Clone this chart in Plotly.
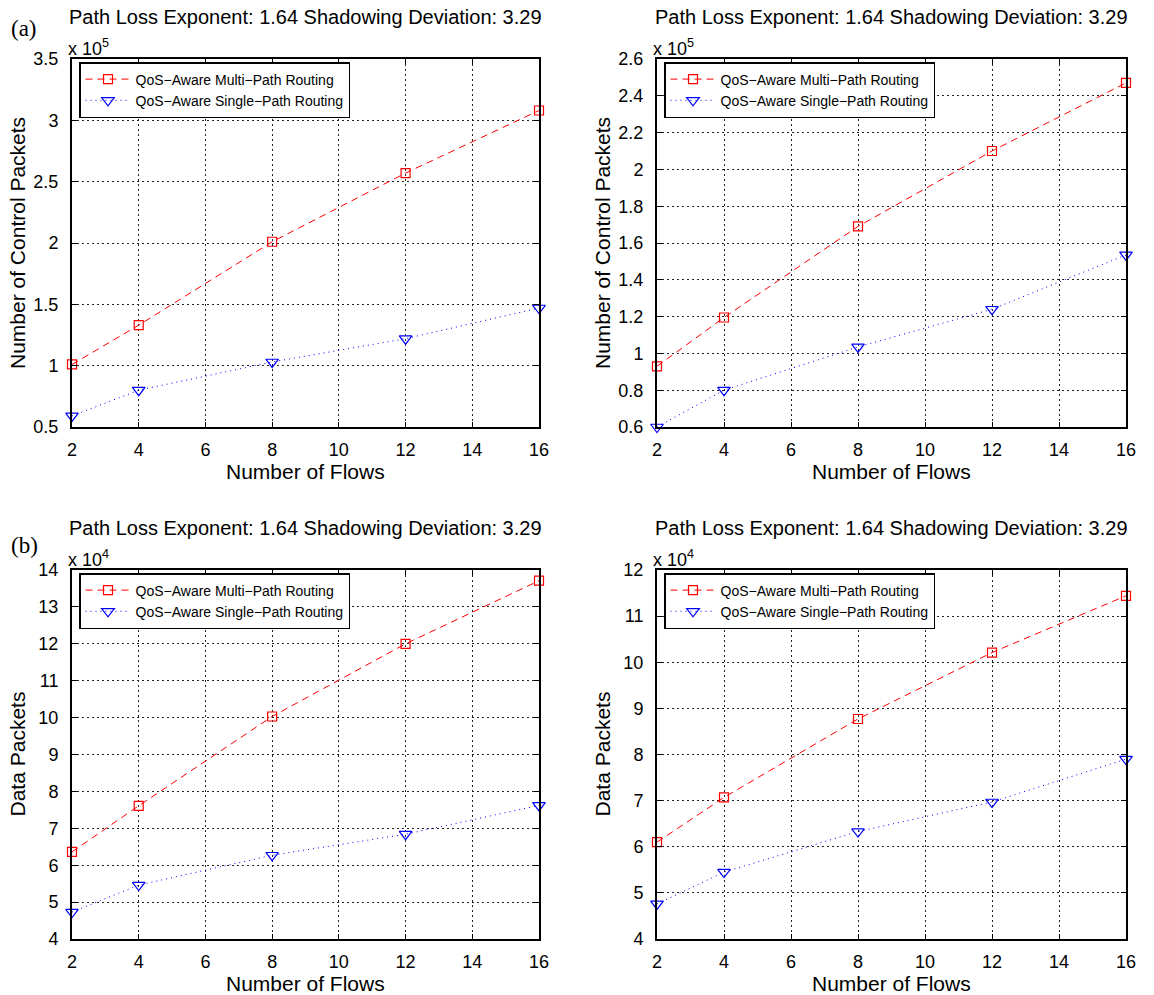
import plotly.graph_objects as go

# Number of concurrent flows (shared x values)
flows = [2, 4, 8, 12, 16]

# Control packets, in units of 10^5
ctrl_multi_left = [1.01, 1.33, 2.01, 2.57, 3.08]
ctrl_single_left = [0.59, 0.80, 1.03, 1.22, 1.47]
ctrl_multi_right = [0.93, 1.195, 1.69, 2.10, 2.47]
ctrl_single_right = [0.60, 0.80, 1.035, 1.24, 1.535]

# Data packets, in units of 10^4
data_multi_left = [6.36, 7.61, 10.03, 12.0, 13.71]
data_single_left = [4.73, 5.46, 6.27, 6.84, 7.62]
data_multi_right = [6.10, 7.07, 8.77, 10.21, 11.44]
data_single_right = [4.76, 5.45, 6.33, 6.97, 7.90]

# Y tick values per panel
ticks_ctrl_left = [0.5, 1, 1.5, 2, 2.5, 3, 3.5]
ticks_ctrl_right = [0.6, 0.8, 1, 1.2, 1.4, 1.6, 1.8, 2, 2.2, 2.4, 2.6]
ticks_data_left = [4, 5, 6, 7, 8, 9, 10, 11, 12, 13, 14]
ticks_data_right = [4, 5, 6, 7, 8, 9, 10, 11, 12]
ticks_flows = [2, 4, 6, 8, 10, 12, 14, 16]

panel_title = "Path Loss Exponent: 1.64 Shadowing Deviation: 3.29"
name_multi = "QoS\u2212Aware Multi\u2212Path Routing"
name_single = "QoS\u2212Aware Single\u2212Path Routing"

W, H = 1154, 995
FONT = "Liberation Sans, Arial, sans-serif"

# Panel boxes in pixels: (left, right, top, bottom)
boxes = [
    (72, 539, 59, 427),
    (657, 1126, 59, 427),
    (72, 539, 570, 939),
    (657, 1126, 570, 939),
]

panels = [
    (ctrl_multi_left, ctrl_single_left, ticks_ctrl_left, "Number of Control Packets", "5"),
    (ctrl_multi_right, ctrl_single_right, ticks_ctrl_right, "Number of Control Packets", "5"),
    (data_multi_left, data_single_left, ticks_data_left, "Data Packets", "4"),
    (data_multi_right, data_single_right, ticks_data_right, "Data Packets", "4"),
]

fig = go.Figure()
layout = dict(
    width=W, height=H,
    margin=dict(l=0, r=0, t=0, b=0),
    paper_bgcolor="white", plot_bgcolor="white",
    font=dict(family=FONT, color="black", size=18),
    showlegend=True,
)
annotations = []


def px_x(v):
    return v / W


def px_y(v):
    return 1 - v / H


for i, ((multi, single, yt, ytitle, expo), (l, r, t, b)) in enumerate(zip(panels, boxes)):
    n = "" if i == 0 else str(i + 1)
    leg = "legend" if i == 0 else f"legend{i + 1}"
    fig.add_trace(go.Scatter(
        x=flows, y=multi, name=name_multi, mode="lines+markers",
        line=dict(color="#ff0000", width=1, dash="7px,5px"),
        marker=dict(symbol="square-open", size=9, color="#ff0000", line=dict(width=1.2)),
        xaxis="x" + n, yaxis="y" + n, legend=leg, cliponaxis=False,
    ))
    fig.add_trace(go.Scatter(
        x=flows, y=single, name=name_single, mode="lines+markers",
        line=dict(color="#0000ff", width=1, dash="1px,4px"),
        marker=dict(symbol="triangle-down-open", size=11, color="#0000ff", line=dict(width=1.2)),
        xaxis="x" + n, yaxis="y" + n, legend=leg, cliponaxis=False,
    ))
    common = dict(
        showline=True, linecolor="black", linewidth=2, mirror="ticks",
        ticks="inside", ticklen=5, tickcolor="black", tickwidth=1,
        showgrid=True, gridcolor="#222222", gridwidth=1, griddash="2px,3px",
        zeroline=False, automargin=False,
        tickfont=dict(family=FONT, size=18, color="black"),
    )
    layout["xaxis" + n] = dict(
        common, domain=[px_x(l), px_x(r)], anchor="y" + n,
        range=[2, 16], tickvals=ticks_flows, ticklabelstandoff=5,
    )
    layout["yaxis" + n] = dict(
        common, domain=[px_y(b), px_y(t)], anchor="x" + n,
        range=[yt[0], yt[-1]], tickvals=yt, ticklabelstandoff=8,
    )
    layout[leg] = dict(
        x=px_x(l + 7), y=px_y(t + 3), xanchor="left", yanchor="top",
        bgcolor="white", bordercolor="black", borderwidth=1.5,
        font=dict(family=FONT, size=14, color="black"),
        tracegroupgap=0, itemwidth=45,
    )
    cx = (l + r) / 2
    # panel title
    annotations.append(dict(
        text=panel_title, xref="paper", yref="paper",
        x=px_x(cx), y=px_y(t - 42), xanchor="center", yanchor="middle",
        showarrow=False, font=dict(family=FONT, size=20, color="black"),
    ))
    # exponent marker above the y axis
    annotations.append(dict(
        text=f"x 10<sup>{expo}</sup>", xref="paper", yref="paper",
        x=px_x(l - 6), y=px_y(t + 2), xanchor="left", yanchor="bottom",
        showarrow=False, font=dict(family=FONT, size=18, color="black"),
    ))
    # x axis title
    annotations.append(dict(
        text="Number of Flows", xref="paper", yref="paper",
        x=px_x(cx), y=px_y(b + 44), xanchor="center", yanchor="middle",
        showarrow=False, font=dict(family=FONT, size=21, color="black"),
    ))
    # y axis title
    annotations.append(dict(
        text=ytitle, xref="paper", yref="paper", textangle=-90,
        x=px_x(l - 55), y=px_y((t + b) / 2), xanchor="center", yanchor="middle",
        showarrow=False, font=dict(family=FONT, size=21, color="black"),
    ))

# row labels
for label, yc in (("(a)", 29), ("(b)", 545)):
    annotations.append(dict(
        text=label, xref="paper", yref="paper",
        x=px_x(24), y=px_y(yc), xanchor="center", yanchor="middle",
        showarrow=False, font=dict(family="Liberation Serif, Times New Roman, serif", size=23, color="black"),
    ))

layout["annotations"] = annotations
fig.update_layout(**layout)
fig.write_html("out.html")
